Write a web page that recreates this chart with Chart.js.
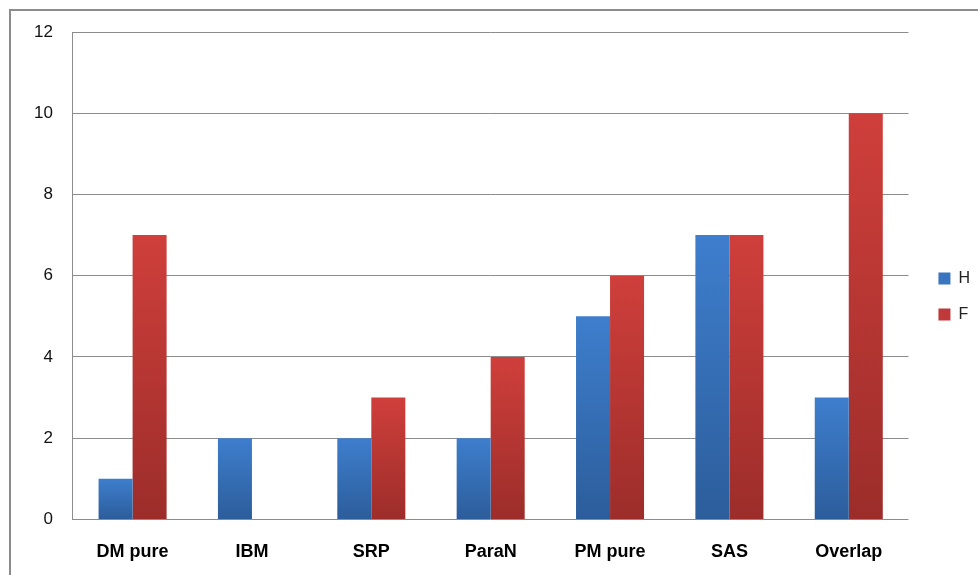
<!DOCTYPE html>
<html>
<head>
<meta charset="utf-8">
<script src="https://cdn.jsdelivr.net/npm/chart.js@4.4.1/dist/chart.umd.min.js"></script>
<style>
  body { margin: 0; background: #fff; }
  .frame { position: absolute; left: 9px; top: 9px; width: 1000px; height: 600px; border: 2px solid #8c8c8c; }
  .wrap { position: absolute; left: 0; top: 0; width: 978px; height: 575px; }
</style>
</head>
<body>
<div class="frame"></div>
<div class="wrap"><canvas id="myChart"></canvas></div>
<script>
const categories = ["DM pure", "IBM", "SRP", "ParaN", "PM pure", "SAS", "Overlap"];
const hValues = [1, 2, 2, 2, 5, 7, 3];
const fValues = [7, 0, 3, 4, 6, 7, 10];
const yTicks = [0, 2, 4, 6, 8, 10, 12];

// each bar gets its own top->bottom gradient (excel 2007 look)
function barGradient(c, top, bottom) {
  const chart = c.chart;
  const yScale = chart.scales.y;
  if (!chart.chartArea || !yScale || c.type !== "data") return top;
  const yTop = yScale.getPixelForValue(c.raw);
  const yBottom = yScale.getPixelForValue(0);
  if (!isFinite(yTop) || yBottom - yTop < 1) return top;
  const g = chart.ctx.createLinearGradient(0, yTop, 0, yBottom);
  g.addColorStop(0, top);
  g.addColorStop(1, bottom);
  return g;
}

// nudge the legend: a bit right and up from where chart.js puts it
const legendShift = {
  id: "legendShift",
  afterLayout(chart) {
    const lg = chart.legend;
    if (!lg) return;
    lg.left += 10;
    lg.right += 10;
    lg.top -= 8;
    lg.bottom -= 8;
    if (lg.legendHitBoxes)
      lg.legendHitBoxes.forEach((b) => {
        b.left += 10;
        b.top -= 8;
      });
  },
};

const ctx = document.getElementById("myChart");

new Chart(ctx, {
  type: "bar",
  data: {
    labels: categories,
    datasets: [
      {
        label: "H",
        data: hValues,
        backgroundColor: (c) => barGradient(c, "#3e7ecd", "#2c5d9b"),
        borderWidth: 0,
      },
      {
        label: "F",
        data: fValues,
        backgroundColor: (c) => barGradient(c, "#cf3f3b", "#9c2d2a"),
        borderWidth: 0,
      },
    ],
  },
  plugins: [legendShift],
  options: {
    responsive: true,
    maintainAspectRatio: false,
    animation: false,
    layout: { padding: { left: 14, top: 32, right: 8, bottom: -2 } },
    datasets: {
      bar: { barPercentage: 1, categoryPercentage: 0.57 },
    },
    plugins: {
      tooltip: { enabled: false },
      legend: {
        position: "right",
        labels: {
          boxWidth: 12,
          boxHeight: 12,
          padding: 20,
          color: "#222",
          font: { family: "Liberation Sans", size: 16 },
          generateLabels: (chart) =>
            chart.data.datasets.map((ds, i) => ({
              text: ds.label,
              fillStyle: i === 0 ? "#3a75c0" : "#c0393a",
              strokeStyle: "transparent",
              lineWidth: 0,
              fontColor: "#222",
              datasetIndex: i,
            })),
        },
      },
    },
    scales: {
      x: {
        grid: { display: false },
        border: { display: false },
        ticks: {
          color: "#000",
          padding: 14,
          font: { family: "Liberation Sans", size: 18, weight: "bold" },
        },
      },
      y: {
        min: 0,
        max: 12,
        afterBuildTicks: (axis) => {
          axis.ticks = yTicks.map((v) => ({ value: v }));
        },
        grid: { color: "#8c8c8c", lineWidth: 1, drawTicks: false },
        border: { display: true, color: "#8c8c8c", width: 1 },
        ticks: {
          color: "#111",
          padding: 20,
          font: { family: "Liberation Sans", size: 17 },
        },
      },
    },
  },
});
</script>
</body>
</html>
